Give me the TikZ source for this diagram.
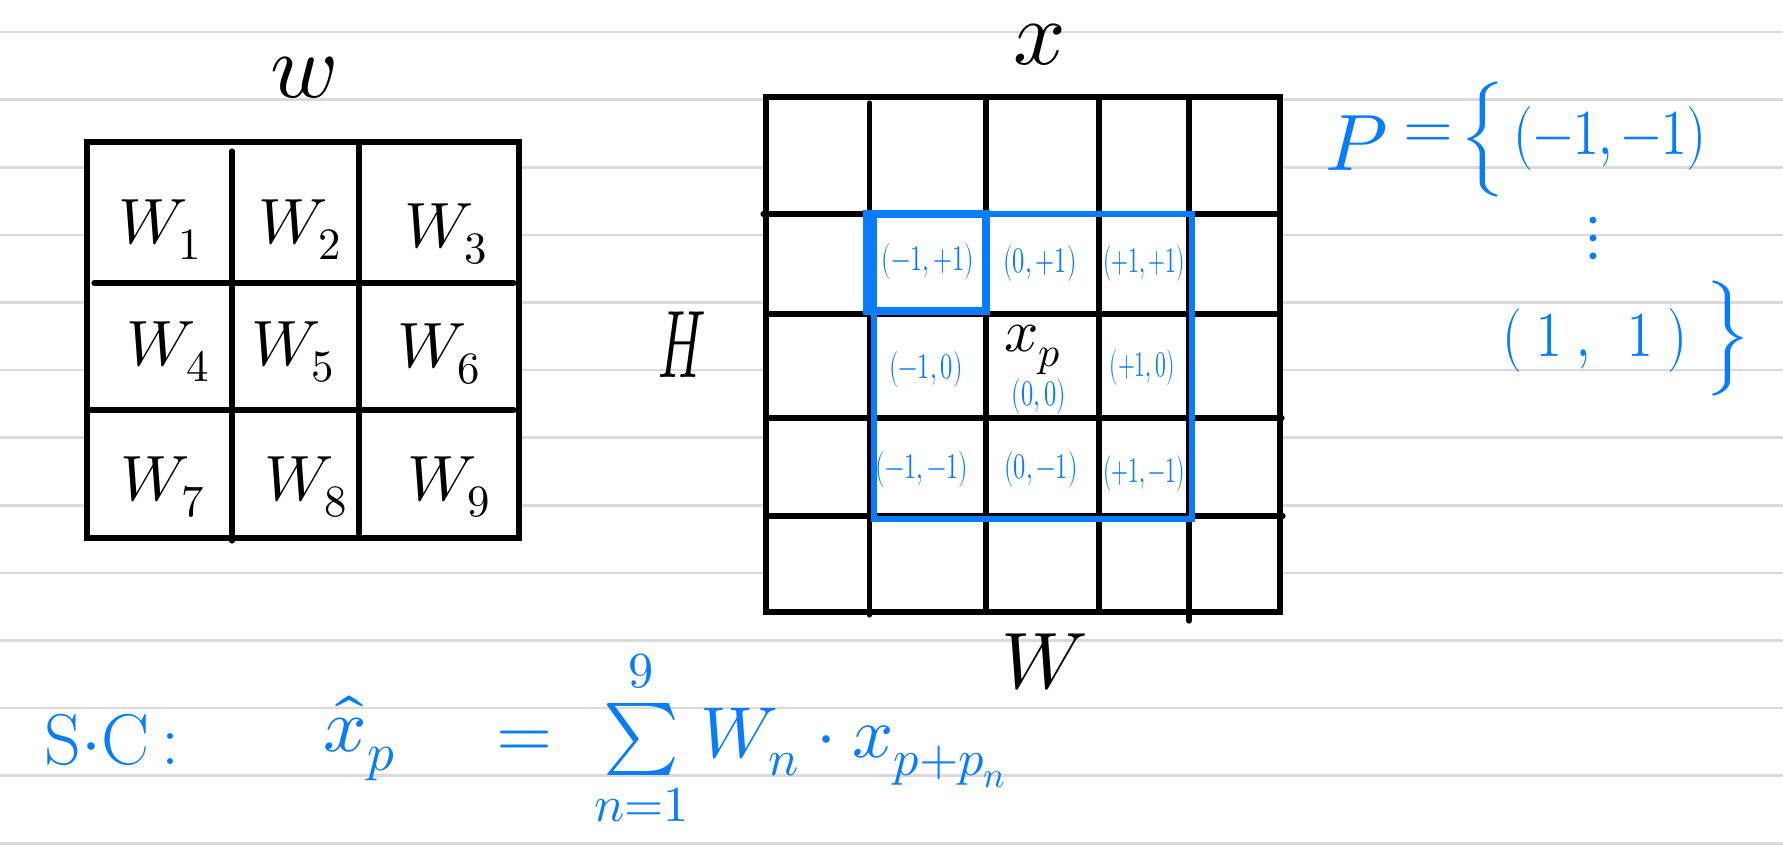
\documentclass[tikz,border=0pt]{standalone}
\usepackage{unicode-math}
\usepackage{graphicx}
\definecolor{penblue}{RGB}{8,124,250}
\definecolor{rulegray}{RGB}{218,218,218}
\newcommand{\narrow}[2][0.8]{\scalebox{#1}[1]{#2}}
\tikzset{
  ruleline/.style={draw=rulegray, line width=1.3pt},
  gridline/.style={draw=black, line width=2.6pt, line cap=round},
  bluebox/.style={draw=penblue, line width=3pt},
  smallbluebox/.style={draw=penblue, line width=3.6pt},
  cellW/.style={font=\fontsize{32}{38}\selectfont, inner sep=0pt},
  offs/.style={text=penblue, font=\fontsize{18}{21}\selectfont, inner sep=0pt},
  titlefont/.style={font=\fontsize{46}{54}\selectfont, inner sep=0pt},
  axisfont/.style={font=\fontsize{40}{48}\selectfont, inner sep=0pt},
  bluebig/.style={text=penblue, font=\fontsize{32}{38}\selectfont, inner sep=0pt},
  bluefor/.style={text=penblue, font=\fontsize{36}{42}\selectfont, inner sep=0pt},
}
\begin{document}
\begin{tikzpicture}[x=0.5pt,y=-0.5pt]
\useasboundingbox (0,0) rectangle (1783,862);
\fill[white] (0,0) rectangle (1783,862);
% ruled paper
\foreach \k in {0,...,12} { \draw[ruleline] (0,{32+67.6*\k}) -- (1783,{32+67.6*\k}); }

% ---------- kernel w ----------
\fill[white] (87,142) rectangle (519,538);
\draw[gridline] (87,142) rectangle (519,538);
\draw[gridline] (232,151) -- (232,541);
\draw[gridline] (359,145) -- (359,534);
\draw[gridline] (94,283) -- (514,283);
\draw[gridline] (88,410) -- (514,410);
\node[titlefont] (wtitle) at (304,78) {$w$};
\node[cellW] (w1) at (160,230) {$W_1$};
\node[cellW] (w2) at (300,230) {$W_2$};
\node[cellW] (w3) at (446,234) {$W_3$};
\node[cellW] (w4) at (168,352) {$W_4$};
\node[cellW] (w5) at (293,352) {$W_5$};
\node[cellW] (w6) at (439,354) {$W_6$};
\node[cellW] (w7) at (163,487) {$W_7$};
\node[cellW] (w8) at (306,487) {$W_8$};
\node[cellW] (w9) at (449,487) {$W_9$};

% ---------- input x ----------
\fill[white] (766,97) rectangle (1280,612);
\draw[gridline] (766,97) rectangle (1280,612);
\draw[gridline] (869.5,103) -- (869.5,615);
\draw[gridline] (986,97) -- (986,612);
\draw[gridline] (1099,97) -- (1099,612);
\draw[gridline] (1189,97) -- (1189,621);
\draw[gridline] (763,214) -- (1280,214);
\draw[gridline] (766,314) -- (1280,314);
\draw[gridline] (766,418) -- (1282,418);
\draw[gridline] (766,516) -- (1283,516);
\draw[bluebox] (874,214) rectangle (1192,519);
\draw[smallbluebox] (867,214) rectangle (986,311);

\node[titlefont] (xtitle) at (1040,45) {$x$};
\node[axisfont] (Hlabel) at (682,345) {\scalebox{0.65}[1.2]{$H$}};
\node[axisfont] (Wlabel) at (1045,662) {$W$};

\node[offs] (o11) at (928,261) {\narrow[0.68]{$(-1,+1)$}};
\node[offs] (o21) at (1040,263) {\narrow[0.68]{$(0,+1)$}};
\node[offs] (o31) at (1144,263) {\narrow[0.6]{$(+1,+1)$}};
\node[offs] (o12) at (926,369) {\narrow[0.68]{$(-1,0)$}};
\node[offs] (o22) at (1039,396) {\narrow[0.68]{$(0,0)$}};
\node[offs] (o32) at (1142,367) {\narrow[0.6]{$(+1,0)$}};
\node[offs] (o13) at (922,469) {\narrow[0.68]{$(-1,-1)$}};
\node[offs] (o23) at (1041,469) {\narrow[0.68]{$(0,-1)$}};
\node[offs] (o33) at (1144,473) {\narrow[0.6]{$(+1,-1)$}};
\node[font=\fontsize{30}{34}\selectfont, inner sep=0pt] (xp) at (1033,350) {$x_p$};

% ---------- set P ----------
\node[bluebig, font=\fontsize{40}{48}\selectfont] (Pname) at (1357,143) {$P$};
\node[bluebig] (Peq) at (1428,137) {$=$};
\node[bluebig] (Popen) at (1483,139) {$\Big\{$};
\node[bluebig] (Pfirst) at (1610,138) {\narrow{$(-1,-1)$}};
\node[bluebig] (Pdots) at (1593,238) {$\vdots$};
\node[bluebig] (Plast) at (1595,340) {\narrow{$(\;1\;,\;\;1\;)$}};
\node[bluebig] (Pclose) at (1728,338) {$\Big\}$};

% ---------- formula ----------
\node[bluefor] (sc) at (112,740) {S$\cdot$C\,:};
\node[bluefor, font=\fontsize{38}{44}\selectfont] (xhat) at (360,738) {$\hat{x}_p$};
\node[bluefor, anchor=west] (rhs) at (496,738) {$=\ \sum\limits_{n=1}^{9} W_n\cdot x_{p+p_n}$};
\end{tikzpicture}
\end{document}
